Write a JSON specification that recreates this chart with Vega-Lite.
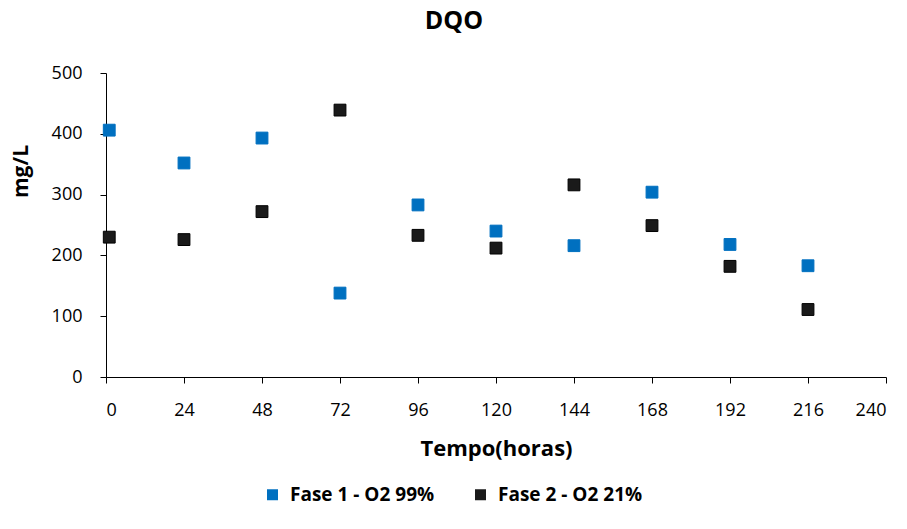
{
  "$schema": "https://vega.github.io/schema/vega-lite/v6.json",
  "width": 780,
  "height": 304,
  "autosize": {"type": "none"},
  "padding": {"left": 106, "top": 73, "right": 21, "bottom": 152},
  "background": "white",
  "title": {"text": "DQO", "fontSize": 25, "font": "Open Sans", "fontWeight": "bold", "color": "#000000", "anchor": "middle", "dx": -42, "offset": 30},
  "data": {"values": [
    {"t": 1, "v": 406, "serie": "Fase 1 - O2 99%"},
    {"t": 24, "v": 352, "serie": "Fase 1 - O2 99%"},
    {"t": 48, "v": 393, "serie": "Fase 1 - O2 99%"},
    {"t": 72, "v": 138, "serie": "Fase 1 - O2 99%"},
    {"t": 96, "v": 283, "serie": "Fase 1 - O2 99%"},
    {"t": 120, "v": 240, "serie": "Fase 1 - O2 99%"},
    {"t": 144, "v": 216, "serie": "Fase 1 - O2 99%"},
    {"t": 168, "v": 304, "serie": "Fase 1 - O2 99%"},
    {"t": 192, "v": 218, "serie": "Fase 1 - O2 99%"},
    {"t": 216, "v": 183, "serie": "Fase 1 - O2 99%"},
    {"t": 1, "v": 230, "serie": "Fase 2 - O2 21%"},
    {"t": 24, "v": 226, "serie": "Fase 2 - O2 21%"},
    {"t": 48, "v": 272, "serie": "Fase 2 - O2 21%"},
    {"t": 72, "v": 439, "serie": "Fase 2 - O2 21%"},
    {"t": 96, "v": 233, "serie": "Fase 2 - O2 21%"},
    {"t": 120, "v": 212, "serie": "Fase 2 - O2 21%"},
    {"t": 144, "v": 316, "serie": "Fase 2 - O2 21%"},
    {"t": 168, "v": 249, "serie": "Fase 2 - O2 21%"},
    {"t": 192, "v": 182, "serie": "Fase 2 - O2 21%"},
    {"t": 216, "v": 111, "serie": "Fase 2 - O2 21%"}
  ]},
  "mark": {"type": "point", "shape": "square", "filled": true, "size": 140, "opacity": 1, "strokeWidth": 1},
  "encoding": {
    "x": {"field": "t", "type": "quantitative",
      "scale": {"domain": [0, 240], "nice": false, "zero": false},
      "axis": {"values": [0,24,48,72,96,120,144,168,192,216,240], "title": "Tempo(horas)", "grid": false,
        "domainColor": "#000000", "tickColor": "#000000", "tickSize": 6, "labelPadding": 18,
        "labelFont": "Open Sans", "labelFontSize": 18, "labelColor": "#000000",
        "titleFont": "Open Sans", "titleFontSize": 22, "titleFontWeight": "bold", "titleColor": "#000000", "titlePadding": 19}},
    "y": {"field": "v", "type": "quantitative",
      "scale": {"domain": [0, 500], "nice": false},
      "axis": {"values": [0,100,200,300,400,500], "title": "mg/L", "grid": false,
        "domainColor": "#000000", "tickColor": "#000000", "tickSize": 6, "labelPadding": 18,
        "labelFont": "Open Sans", "labelFontSize": 18, "labelColor": "#000000",
        "titleFont": "Open Sans", "titleFontSize": 21, "titleFontWeight": "bold", "titleColor": "#000000",
        "titleAngle": -90, "titleAlign": "center", "titleBaseline": "middle", "titleX": -85, "titleY": 98}},
    "color": {"field": "serie", "type": "nominal",
      "scale": {"domain": ["Fase 1 - O2 99%", "Fase 2 - O2 21%"], "range": ["#0070C0", "#1a1a1a"]},
      "legend": {"title": null, "orient": "none", "direction": "horizontal", "legendX": 157, "legendY": 412,
        "symbolType": "square", "symbolSize": 121, "symbolStrokeWidth": 0, "columnPadding": 36, "labelOffset": 8,
        "labelFont": "Open Sans", "labelFontSize": 19, "labelFontWeight": "bold", "labelColor": "#000000", "labelLimit": 300}},
    "stroke": {"field": "serie", "type": "nominal",
      "scale": {"domain": ["Fase 1 - O2 99%", "Fase 2 - O2 21%"], "range": ["#0070C0", "#000000"]},
      "legend": null}
  },
  "config": {"view": {"stroke": null}}
}
